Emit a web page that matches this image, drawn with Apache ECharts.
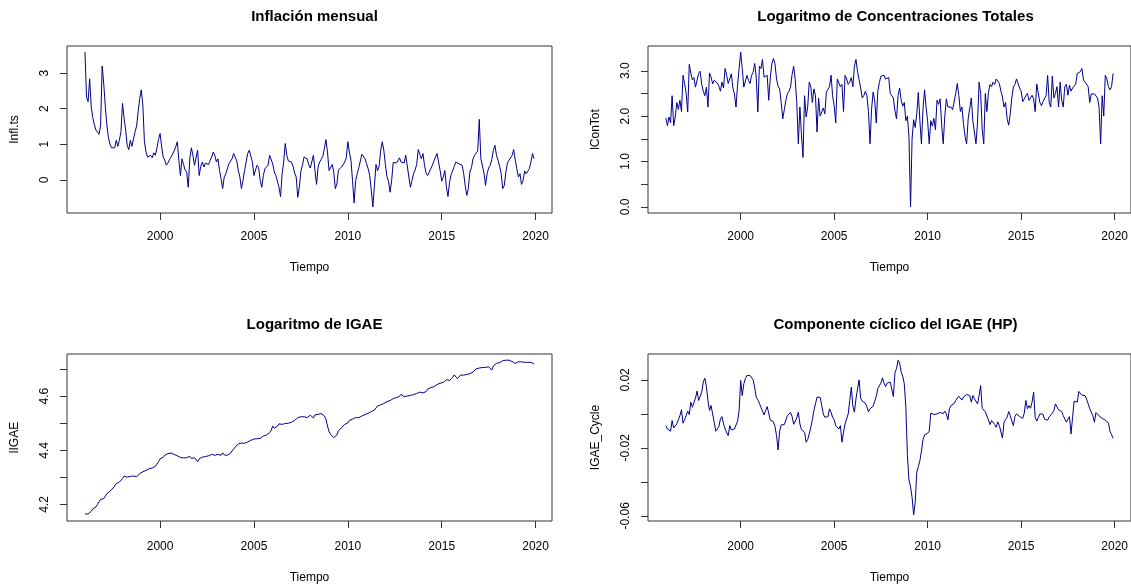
<!DOCTYPE html>
<html>
<head>
<meta charset="utf-8">
<script src="https://cdn.jsdelivr.net/npm/echarts@6/dist/echarts.min.js"></script>
<style>
html,body{margin:0;padding:0;background:#fff;}
#chart{width:1131px;height:587px;}
</style>
</head>
<body>
<div id="chart"></div>
<script>
// ---- Data (monthly, Jan 1996 - Dec 2019) ----
const startYear = 1996;
const perYear = 12;

const inflacion = [
3.59,2.33,2.20,2.84,2.05,1.75,1.55,1.40,1.45,1.28,1.54,3.20,
2.70,2.06,1.54,1.19,1.00,0.90,0.88,0.90,1.11,0.94,1.11,1.35,
2.15,1.73,1.40,0.97,0.85,1.11,0.94,0.97,1.35,1.51,1.92,2.29,
2.53,2.10,1.07,0.78,0.64,0.64,0.69,0.62,0.76,0.69,0.90,1.13,
1.30,0.93,0.64,0.55,0.41,0.47,0.57,0.64,0.69,0.81,0.93,1.07,
0.55,0.12,0.59,0.43,0.28,0.22,-0.21,0.59,0.90,0.69,0.41,0.45,
0.83,0.12,0.38,0.50,0.36,0.47,0.50,0.43,0.55,0.64,0.78,0.69,
0.50,0.59,0.26,0.03,-0.25,0.08,0.17,0.21,0.45,0.47,0.59,0.74,
0.64,0.53,0.26,0.08,-0.25,-0.02,0.26,0.50,0.74,0.83,0.83,0.50,
0.12,0.28,0.41,0.34,-0.02,-0.21,0.12,0.31,0.31,0.41,0.69,0.64,
0.45,0.22,0.12,0.08,-0.21,-0.47,0.17,0.50,1.02,0.69,0.53,0.57,
0.50,0.38,0.19,0.08,-0.49,-0.21,0.25,0.41,0.64,0.66,0.59,0.43,
0.33,0.38,0.69,0.26,-0.13,0.36,0.50,0.58,0.66,0.88,1.13,0.78,
0.26,0.31,0.43,0.22,-0.25,-0.11,0.28,0.31,0.36,0.41,0.50,0.62,
1.07,0.78,0.55,-0.02,-0.65,-0.02,0.17,0.34,0.53,0.72,0.71,0.59,
0.45,0.31,0.12,-0.30,-0.76,-0.16,0.43,0.25,0.39,0.83,1.07,0.83,
0.43,0.09,-0.04,-0.35,-0.02,0.49,0.53,0.47,0.53,0.62,0.50,0.55,
0.47,0.69,0.74,0.08,-0.21,-0.02,0.17,0.28,0.43,0.85,0.72,0.59,
0.74,0.41,0.19,0.12,0.09,0.31,0.41,0.45,0.64,0.74,0.78,0.26,
-0.04,0.08,0.26,-0.21,-0.47,-0.07,0.15,0.25,0.38,0.50,0.53,0.45,
0.41,0.41,0.19,-0.16,-0.44,-0.25,0.22,0.34,0.59,0.69,0.69,0.81,
1.70,0.60,0.59,0.19,-0.16,0.17,0.34,0.41,0.57,0.83,0.97,0.69,
0.55,0.38,0.17,-0.25,-0.16,0.22,0.47,0.55,0.53,0.69,0.85,0.55,
0.31,0.08,0.17,-0.13,-0.02,0.25,0.17,0.12,0.31,0.50,0.74,0.59
];

const lConTot = [
1.96,1.79,1.98,1.85,2.45,1.79,1.98,2.30,2.15,2.35,2.10,2.90,
2.72,2.50,2.09,3.14,2.95,2.80,2.85,2.64,2.60,2.94,2.99,2.70,
2.55,2.45,2.64,2.20,2.95,2.86,2.71,2.79,2.76,2.73,2.66,2.55,
2.75,2.62,3.05,2.90,2.72,2.76,2.93,2.62,2.49,2.20,2.68,3.05,
3.41,3.05,2.64,2.60,2.90,2.79,2.72,2.90,2.97,3.16,2.86,2.09,
3.10,3.05,3.25,2.86,2.82,2.90,2.35,2.85,3.15,3.27,3.16,2.82,
2.66,2.60,2.30,1.94,2.14,2.35,2.50,2.55,2.64,2.92,3.10,2.80,
2.30,1.39,2.20,1.60,1.09,2.45,1.98,2.20,2.75,2.65,2.30,2.60,
2.45,1.65,2.40,2.00,1.99,2.18,2.05,2.53,2.50,2.65,2.90,2.45,
2.23,1.85,2.82,2.80,2.65,2.70,2.10,2.90,2.82,2.70,2.75,2.85,
2.65,3.10,3.25,2.98,2.80,2.62,2.40,2.45,2.55,2.45,2.10,1.39,
2.15,2.53,2.35,1.85,2.55,2.74,2.88,2.84,2.90,2.82,2.86,2.85,
2.50,2.53,2.40,2.12,1.94,2.45,2.62,2.35,2.22,2.30,1.90,2.00,
1.53,0.00,1.50,1.92,1.75,2.05,2.52,1.90,1.39,2.15,2.58,2.20,
1.88,1.39,1.90,1.78,1.95,1.70,2.35,2.26,2.38,1.80,1.39,2.00,
2.38,2.20,2.20,2.20,2.14,2.18,2.50,2.72,2.45,2.10,2.20,1.83,
1.55,1.39,1.94,1.98,2.40,1.90,1.93,1.39,1.85,2.75,2.50,1.70,
1.39,2.50,2.10,2.52,2.70,2.65,2.75,2.70,2.82,2.80,2.72,2.55,
2.42,2.20,2.30,1.94,1.80,2.05,2.40,2.64,2.70,2.82,2.72,2.62,
2.55,2.32,2.38,2.45,2.50,2.35,2.40,2.46,2.38,2.10,2.71,2.75,
2.30,2.23,2.32,2.28,2.45,2.90,2.30,2.20,2.88,2.40,2.50,2.65,
2.20,2.75,2.35,2.20,2.65,2.70,2.46,2.68,2.55,2.62,2.60,2.70,
2.94,2.94,2.98,3.05,2.80,2.75,2.74,2.65,2.30,2.49,2.49,2.49,
2.47,2.40,2.20,1.39,2.45,2.00,2.90,2.82,2.65,2.58,2.65,2.94
];

const lIGAE = [
4.165,4.162,4.165,4.169,4.175,4.184,4.185,4.191,4.200,4.210,4.219,4.221,
4.222,4.231,4.240,4.244,4.249,4.253,4.261,4.268,4.277,4.284,4.283,4.288,
4.296,4.305,4.309,4.301,4.303,4.304,4.305,4.305,4.299,4.303,4.309,4.314,
4.317,4.321,4.326,4.326,4.330,4.332,4.330,4.335,4.337,4.341,4.346,4.358,
4.369,4.364,4.374,4.382,4.388,4.388,4.391,4.390,4.388,4.385,4.383,4.380,
4.377,4.374,4.373,4.372,4.370,4.373,4.370,4.378,4.370,4.367,4.373,4.367,
4.358,4.369,4.373,4.375,4.378,4.377,4.379,4.380,4.382,4.385,4.380,4.382,
4.383,4.385,4.388,4.382,4.391,4.383,4.388,4.382,4.385,4.389,4.398,4.404,
4.412,4.419,4.424,4.426,4.427,4.422,4.426,4.428,4.431,4.435,4.437,4.440,
4.442,4.441,4.443,4.446,4.444,4.447,4.453,4.457,4.457,4.461,4.465,4.474,
4.490,4.482,4.486,4.489,4.498,4.496,4.496,4.500,4.499,4.498,4.500,4.501,
4.504,4.506,4.510,4.515,4.521,4.524,4.524,4.521,4.524,4.524,4.521,4.526,
4.530,4.528,4.520,4.531,4.531,4.533,4.540,4.536,4.531,4.527,4.516,4.490,
4.469,4.459,4.452,4.447,4.441,4.457,4.472,4.478,4.484,4.489,4.496,4.499,
4.501,4.511,4.515,4.515,4.519,4.521,4.524,4.521,4.526,4.527,4.530,4.532,
4.535,4.537,4.541,4.543,4.546,4.549,4.556,4.564,4.568,4.568,4.570,4.573,
4.575,4.580,4.583,4.584,4.586,4.591,4.595,4.595,4.598,4.599,4.607,4.601,
4.598,4.601,4.601,4.598,4.603,4.601,4.606,4.609,4.610,4.612,4.615,4.616,
4.612,4.607,4.617,4.626,4.632,4.632,4.632,4.635,4.637,4.643,4.647,4.648,
4.648,4.651,4.657,4.661,4.662,4.658,4.664,4.669,4.679,4.673,4.665,4.672,
4.678,4.678,4.678,4.678,4.680,4.682,4.683,4.685,4.689,4.695,4.701,4.704,
4.704,4.704,4.706,4.706,4.706,4.706,4.709,4.705,4.696,4.712,4.719,4.721,
4.721,4.724,4.726,4.731,4.731,4.733,4.731,4.733,4.731,4.728,4.728,4.721,
4.724,4.727,4.728,4.727,4.726,4.725,4.725,4.725,4.725,4.725,4.721,4.719
];

const igaeCycle = [
-0.0069,-0.0089,-0.0098,-0.0102,-0.0039,-0.0083,-0.0094,-0.0059,-0.0035,-0.0010,0.0024,-0.0055,
-0.0035,-0.0010,0.0016,-0.0004,0.0069,0.0039,0.0043,0.0094,0.0134,0.0079,0.0079,0.0128,
0.0187,0.0210,0.0161,0.0079,0.0020,0.0049,0.0043,-0.0049,-0.0102,-0.0092,-0.0075,-0.0030,
-0.0016,-0.0059,-0.0089,-0.0079,-0.0128,-0.0069,-0.0094,-0.0098,-0.0089,-0.0083,-0.0043,0.0020,
0.0197,0.0108,0.0177,0.0207,0.0226,0.0226,0.0226,0.0222,0.0201,0.0153,0.0098,0.0083,
0.0063,0.0039,0.0016,-0.0006,0.0020,0.0043,0.0004,-0.0037,-0.0031,-0.0047,-0.0073,-0.0128,
-0.0212,-0.0102,-0.0065,-0.0061,-0.0063,-0.0065,-0.0010,-0.0006,0.0008,-0.0016,-0.0061,-0.0051,
-0.0024,0.0010,-0.0059,-0.0092,-0.0083,-0.0108,-0.0167,-0.0151,-0.0118,-0.0079,-0.0033,0.0020,
0.0059,0.0098,0.0087,0.0098,0.0049,0.0000,-0.0020,-0.0020,-0.0016,0.0030,0.0010,-0.0020,
-0.0035,-0.0069,-0.0059,-0.0089,-0.0069,-0.0167,-0.0108,-0.0059,-0.0063,0.0000,0.0079,0.0157,
0.0045,0.0010,0.0089,0.0148,0.0200,0.0092,0.0075,0.0073,0.0063,0.0043,0.0012,0.0030,
0.0033,0.0045,0.0075,0.0102,0.0150,0.0157,0.0181,0.0212,0.0181,0.0161,0.0181,0.0173,
0.0187,0.0177,0.0102,0.0242,0.0266,0.0316,0.0299,0.0246,0.0222,0.0177,0.0039,-0.0246,
-0.0389,-0.0427,-0.0492,-0.0594,-0.0521,-0.0344,-0.0311,-0.0275,-0.0220,-0.0151,-0.0124,-0.0114,
-0.0114,-0.0102,0.0004,-0.0006,-0.0004,-0.0004,0.0000,-0.0006,0.0008,0.0002,0.0002,0.0016,
0.0000,-0.0035,0.0031,0.0049,0.0055,0.0061,0.0079,0.0079,0.0104,0.0098,0.0081,0.0100,
0.0106,0.0114,0.0104,0.0108,0.0069,0.0108,0.0089,0.0083,0.0059,0.0108,0.0167,0.0033,
0.0033,0.0012,0.0006,-0.0035,-0.0063,-0.0039,-0.0039,-0.0063,-0.0079,-0.0047,-0.0069,-0.0069,
-0.0142,-0.0049,-0.0033,-0.0020,0.0014,-0.0010,-0.0041,-0.0069,-0.0016,0.0000,-0.0008,-0.0016,
-0.0010,-0.0026,0.0004,0.0079,0.0030,0.0049,0.0033,0.0069,0.0128,-0.0020,-0.0043,-0.0022,
0.0000,-0.0010,-0.0002,-0.0031,-0.0037,-0.0037,-0.0018,-0.0016,0.0004,0.0020,0.0059,0.0049,
0.0024,0.0033,0.0014,-0.0010,-0.0010,-0.0049,-0.0031,-0.0016,-0.0118,-0.0020,0.0075,0.0069,
0.0069,0.0132,0.0134,0.0110,0.0102,0.0108,0.0087,0.0059,0.0030,0.0026,-0.0010,-0.0049,
0.0008,0.0000,-0.0012,-0.0020,-0.0026,-0.0031,-0.0037,-0.0043,-0.0053,-0.0102,-0.0122,-0.0144
];

// ---- Tick positions / labels ----
const xTicks = [2000, 2005, 2010, 2015, 2020];
const yTicks1 = [0, 1, 2, 3];
const yLabels1 = [0, 1, 2, 3];
const yTicks2 = [0, 0.5, 1, 1.5, 2, 2.5, 3];
const yLabels2 = [0, 1, 2, 3];
const yTicks3 = [4.2, 4.3, 4.4, 4.5, 4.6, 4.7];
const yLabels3 = [4.2, 4.4, 4.6];
const yTicks4 = [-0.06, -0.04, -0.02, 0, 0.02];
const yLabels4 = [-0.06, -0.02, 0.02];

const titles = ['Inflación mensual', 'Logaritmo de Concentraciones Totales', 'Logaritmo de IGAE', 'Componente cíclico del IGAE (HP)'];
const yNames = ['Infl.ts', 'lConTot', 'lIGAE', 'IGAE_Cycle'];
const xName = 'Tiempo';

// ---- Build ----
const FONT = '"Liberation Sans", Arial, Helvetica, sans-serif';
const LINE = '#00008B';
const AXC = '#333333';

function toPairs(vals) {
  return vals.map((v, i) => [startYear + i / perYear, v]);
}
function rRange(vals) {
  const mn = Math.min(...vals), mx = Math.max(...vals);
  const d = (mx - mn) * 0.04;
  return [mn - d, mx + d];
}
const n = inflacion.length;
const tMin = startYear, tMax = startYear + (n - 1) / perYear;
const tPad = (tMax - tMin) * 0.04;

const grids = [
  {left: 67, top: 46, width: 485, height: 167},
  {left: 648, top: 46, width: 485, height: 167},
  {left: 67, top: 354, width: 485, height: 167},
  {left: 648, top: 354, width: 485, height: 167}
];
const series = [inflacion, lConTot, lIGAE, igaeCycle];
const yT = [yTicks1, yTicks2, yTicks3, yTicks4];
const yL = [yLabels1, yLabels2, yLabels3, yLabels4];
const yFmt = [
  v => String(Math.round(v)),
  v => v.toFixed(1),
  v => v.toFixed(1),
  v => v.toFixed(2)
];

const option = {
  animation: false,
  backgroundColor: '#ffffff',
  textStyle: {fontFamily: FONT},
  title: grids.map((g, k) => ({
    text: titles[k],
    left: g.left + g.width / 2,
    top: k < 2 ? 4 : 312,
    textAlign: 'center',
    textStyle: {fontFamily: FONT, fontSize: 15, fontWeight: 'bold', color: '#000'}
  })),
  grid: grids.map(g => Object.assign({show: true, borderColor: AXC, borderWidth: 1, backgroundColor: 'transparent'}, g)),
  xAxis: grids.map((g, k) => ({
    type: 'value', gridIndex: k, min: tMin - tPad, max: tMax + tPad,
    name: xName, nameLocation: 'middle', nameGap: k < 2 ? 49 : 51,
    nameTextStyle: {fontFamily: FONT, fontSize: 12, color: '#000'},
    axisLine: {show: false, onZero: false},
    axisTick: {show: true, length: 7, customValues: xTicks, lineStyle: {color: AXC}},
    axisLabel: {show: true, customValues: xTicks, margin: k < 2 ? 18 : 20, fontSize: 12, color: '#000', fontFamily: FONT, formatter: v => String(v)},
    splitLine: {show: false}
  })),
  yAxis: grids.map((g, k) => {
    const r = rRange(series[k]);
    return {
      type: 'value', gridIndex: k, min: r[0], max: r[1],
      name: yNames[k], nameLocation: 'middle', nameGap: 46,
      nameTextStyle: {fontFamily: FONT, fontSize: 12, color: '#000'},
      axisLine: {show: false, onZero: false},
      axisTick: {show: true, length: 7, customValues: yT[k], lineStyle: {color: AXC}},
      axisLabel: {show: true, customValues: yL[k], rotate: 90, margin: 16, fontSize: 12, color: '#000', fontFamily: FONT, formatter: yFmt[k]},
      splitLine: {show: false}
    };
  }),
  series: series.map((vals, k) => ({
    type: 'line', xAxisIndex: k, yAxisIndex: k,
    data: toPairs(vals), showSymbol: false, symbol: 'none',
    lineStyle: {color: LINE, width: 1}, silent: true
  }))
};

const chart = echarts.init(document.getElementById('chart'), null, {renderer: 'canvas'});
chart.setOption(option);
</script>
</body>
</html>
